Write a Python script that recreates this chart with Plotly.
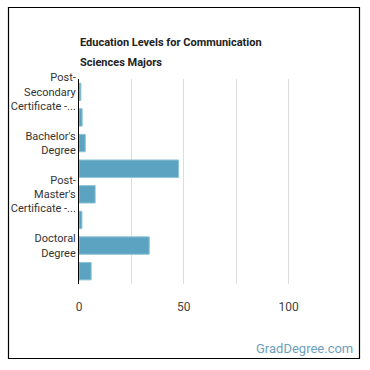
import plotly.graph_objects as go

categories = [
    "Post-Secondary Certificate",
    "Associate's Degree",
    "Bachelor's Degree",
    "Master's Degree",
    "Post-Master's Certificate",
    "First Professional Degree",
    "Doctoral Degree",
    "Post-Doctoral Training",
]
values = [0.9, 1.5, 3.0, 47.5, 7.7, 1.4, 33.5, 5.8]
shown_labels = {
    "Post-Secondary Certificate": "Post-<br>Secondary<br>Certificate -...",
    "Bachelor's Degree": "Bachelor's<br>Degree",
    "Post-Master's Certificate": "Post-<br>Master's<br>Certificate -...",
    "Doctoral Degree": "Doctoral<br>Degree",
}
title_lines = ["Education Levels for Communication", "Sciences Majors"]
x_ticks = [0, 25, 50, 75, 100]
x_ticktext = ["0", "", "50", "", "100"]

W, H = 370, 370
L, R, T, B = 79, 31, 79, 86
pw, ph = W - L - R, H - T - B

def px(x):
    return (x - L) / pw

def py(y):
    return (H - B - y) / ph

fig = go.Figure(go.Bar(
    x=values,
    y=categories,
    orientation="h",
    marker=dict(color="#5ba3c0", line=dict(color="#8ec5d8", width=1)),
    hoverinfo="skip",
))

annotations = []
for i, line in enumerate(title_lines):
    annotations.append(dict(
        text="<b>" + line + "</b>",
        xref="paper", yref="paper",
        x=px(78), y=py(42 + 21 * i),
        xanchor="left", yanchor="middle",
        showarrow=False,
        font=dict(family="Roboto", size=11, color="#222222"),
    ))
annotations.append(dict(
    text="GradDegree.com",
    xref="paper", yref="paper",
    x=px(355), y=py(348),
    xanchor="right", yanchor="middle",
    showarrow=False,
    font=dict(family="Roboto", size=13, color="#6fa0bb"),
))

fig.update_layout(
    width=W, height=H,
    margin=dict(l=L, r=R, t=T, b=B, autoexpand=False),
    paper_bgcolor="white",
    plot_bgcolor="white",
    bargap=0.32,
    showlegend=False,
    font=dict(family="Roboto", size=12, color="#333333"),
    xaxis=dict(
        range=[0, 124],
        tickvals=x_ticks,
        ticktext=x_ticktext,
        showgrid=True,
        gridcolor="#dddddd",
        zeroline=False,
        showline=False,
        ticks="",
        ticklabelstandoff=14,
        tickfont=dict(size=12, color="#444444"),
        automargin=False,
        fixedrange=True,
    ),
    yaxis=dict(
        categoryorder="array",
        categoryarray=categories,
        autorange="reversed",
        tickvals=list(shown_labels.keys()),
        ticktext=list(shown_labels.values()),
        showline=True,
        linecolor="#000000",
        linewidth=1,
        showgrid=False,
        ticks="",
        tickfont=dict(size=11, color="#333333"),
        automargin=False,
        fixedrange=True,
    ),
    shapes=[dict(
        type="rect", xref="paper", yref="paper",
        x0=px(8.5), x1=px(359.5), y0=py(358.5), y1=py(7.5),
        line=dict(color="#000000", width=1.2),
        fillcolor="rgba(0,0,0,0)",
        layer="above",
    )],
    annotations=annotations,
)

fig.write_html("out.html")
